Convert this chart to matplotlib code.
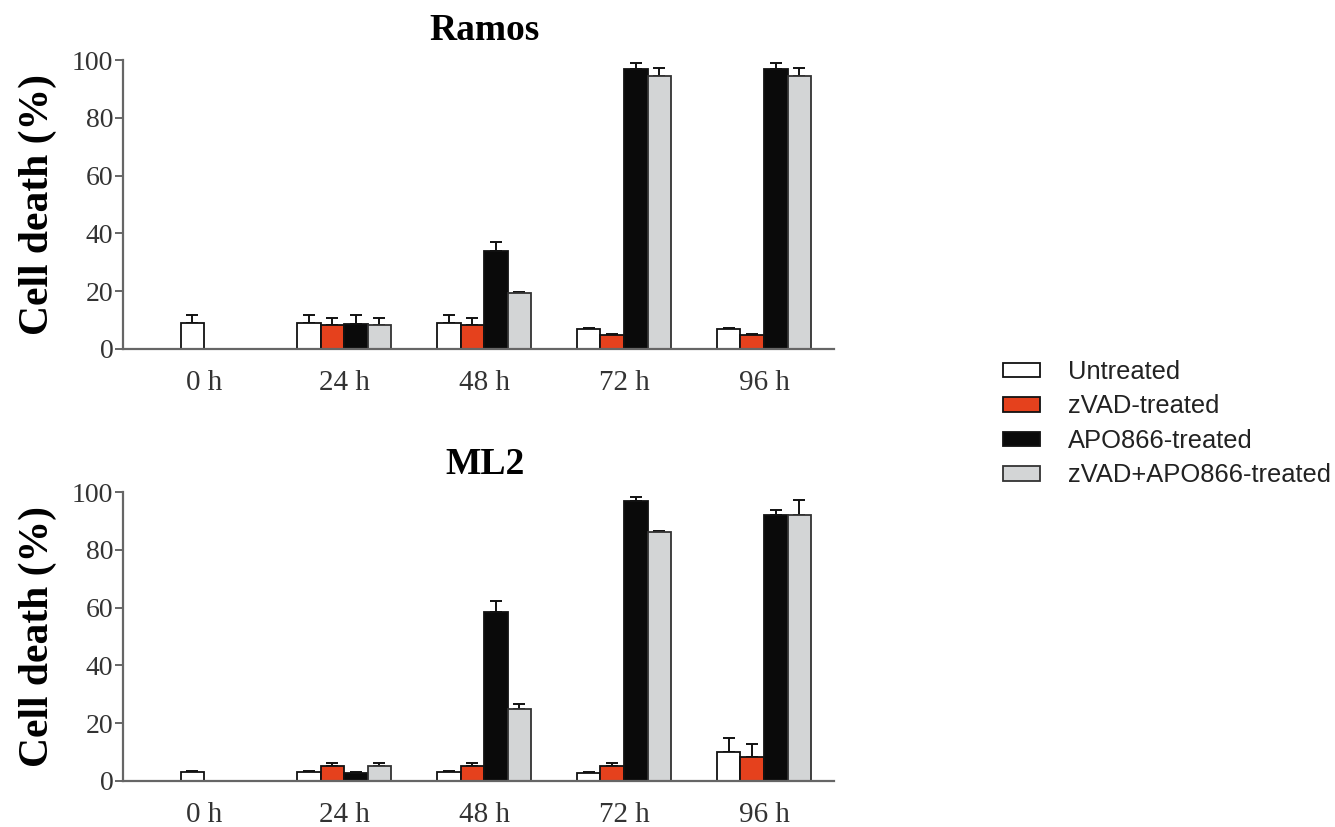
import numpy as np
import matplotlib
matplotlib.use("Agg")
import matplotlib.pyplot as plt

# ---- data ----
timepoints = ["0 h", "24 h", "48 h", "72 h", "96 h"]
series = ["Untreated", "zVAD-treated", "APO866-treated", "zVAD+APO866-treated"]

ramos_untreated = [9.0, 9.0, 9.0, 7.0, 7.0]
ramos_zvad = [np.nan, 8.2, 8.2, 5.0, 5.0]
ramos_apo = [np.nan, 8.8, 34.0, 96.8, 96.8]
ramos_combo = [np.nan, 8.2, 19.4, 94.3, 94.3]
ramos_untreated_err = [2.8, 2.9, 2.9, 0.4, 0.4]
ramos_zvad_err = [0, 2.5, 2.5, 0.2, 0.2]
ramos_apo_err = [0, 2.9, 3.1, 2.0, 2.0]
ramos_combo_err = [0, 2.5, 0.2, 2.9, 2.9]

ml2_untreated = [3.2, 3.2, 3.2, 2.6, 10.2]
ml2_zvad = [np.nan, 5.2, 5.2, 5.2, 8.3]
ml2_apo = [np.nan, 2.9, 58.5, 96.8, 92.2]
ml2_combo = [np.nan, 5.2, 24.8, 86.1, 92.2]
ml2_untreated_err = [0.3, 0.3, 0.3, 0.6, 4.7]
ml2_zvad_err = [0, 1.2, 1.2, 1.2, 4.6]
ml2_apo_err = [0, 0.2, 3.7, 1.5, 1.5]
ml2_combo_err = [0, 1.2, 2.0, 0.3, 5.0]

yticks = [0, 20, 40, 60, 80, 100]

colors = ["#ffffff", "#e5411d", "#0a0a0a", "#d3d5d6"]
edges = ["#111111", "#111111", "#111111", "#333333"]

plt.rcParams['font.family'] = ['Liberation Serif', 'DejaVu Serif']

fig = plt.figure(figsize=(13.35, 8.27), dpi=100)

W = 1335.0
H = 827.0
def axrect(l, t, r, b):
    return [l / W, 1 - b / H, (r - l) / W, (b - t) / H]

ax1 = fig.add_axes(axrect(123, 60, 834, 349))
ax2 = fig.add_axes(axrect(123, 492, 834, 781))

bw = 0.168
offsets = np.array([-1.5, -0.5, 0.5, 1.5]) * bw

def draw(ax, vals, errs, title, title_y):
    x = np.arange(len(timepoints), dtype=float)
    handles = []
    for i, (v, e) in enumerate(zip(vals, errs)):
        v = np.array(v, dtype=float)
        e = np.array(e, dtype=float)
        xs = x + offsets[i]
        if i == 0:
            xs[0] = x[0] + offsets[1]  # single bar at 0 h sits left of centre
        mask = ~np.isnan(v)
        h = ax.bar(xs[mask], v[mask], width=bw, color=colors[i], edgecolor=edges[i],
                   linewidth=1.3, zorder=2, label=series[i])
        handles.append(h)
        ax.errorbar(xs[mask], v[mask], yerr=[np.zeros(mask.sum()), e[mask]], fmt='none',
                    ecolor='#111111', elinewidth=1.4, capsize=4, capthick=1.4, zorder=1)
    ax.set_xlim(-0.579, 4.5)
    ax.set_ylim(0, 100)
    ax.set_yticks(yticks)
    ax.set_xticks(x)
    ax.set_xticklabels(timepoints)
    for s in ['top', 'right']:
        ax.spines[s].set_visible(False)
    for s in ['left', 'bottom']:
        ax.spines[s].set_color('#666666')
        ax.spines[s].set_linewidth(1.6)
    ax.tick_params(axis='y', length=6, width=1.4, color='#666666', labelsize=20,
                   labelcolor='#333333', pad=1)
    ax.tick_params(axis='x', length=0, labelsize=21, labelcolor='#333333', pad=15)
    ax.set_ylabel("Cell death (%)", fontsize=30, fontweight='bold')
    ax.yaxis.set_label_coords(-0.093, 0.5)
    fig.text(485 / W, 1 - title_y / H, title, ha='center', va='center',
             fontsize=27, fontweight='bold')
    return handles

handles = draw(ax1, [ramos_untreated, ramos_zvad, ramos_apo, ramos_combo],
               [ramos_untreated_err, ramos_zvad_err, ramos_apo_err, ramos_combo_err],
               "Ramos", 31)
draw(ax2, [ml2_untreated, ml2_zvad, ml2_apo, ml2_combo],
     [ml2_untreated_err, ml2_zvad_err, ml2_apo_err, ml2_combo_err],
     "ML2", 464)

leg = fig.legend(handles=handles, labels=series, loc='upper left',
                 bbox_to_anchor=(1003 / W, 1 - 360 / H), frameon=False,
                 prop={'family': 'Liberation Sans', 'size': 18.4},
                 handlelength=1.45, handleheight=0.5, handletextpad=1.1,
                 labelspacing=0.41, borderaxespad=0, borderpad=0)
for t in leg.get_texts():
    t.set_color('#222222')

fig.savefig("out.png", dpi=100)
